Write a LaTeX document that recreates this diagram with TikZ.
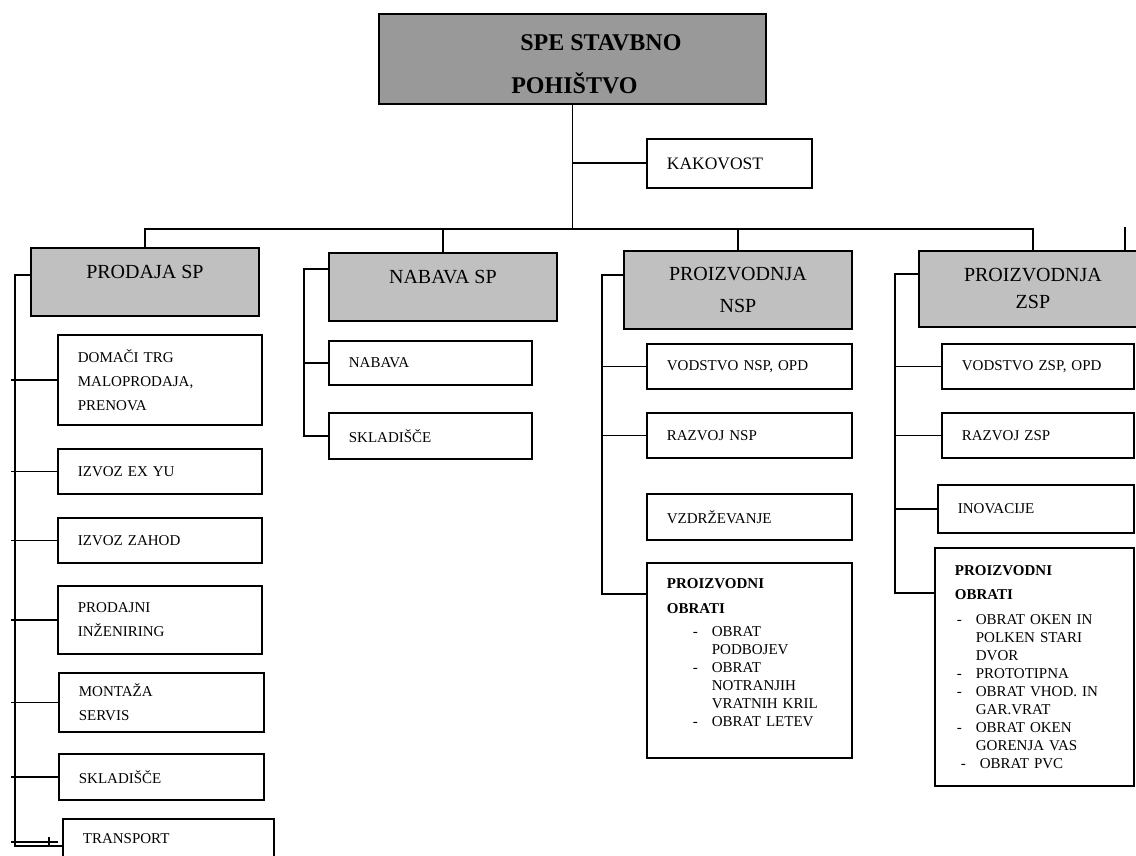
\documentclass[tikz,border=0pt]{standalone}
\usepackage{fontspec}
\setmainfont{Liberation Serif}
\usepackage{tikz}
\usetikzlibrary{positioning, calc}

\definecolor{topgray}{HTML}{999999}
\definecolor{headgray}{HTML}{C0C0C0}

\newcommand{\unitfont}{\fontsize{15}{24}\selectfont}
\newcommand{\headfont}{\fontsize{20}{24}\selectfont}
\newcommand{\titlefont}{\fontsize{24}{29}\selectfont\bfseries}
\newcommand{\obrfont}{\fontsize{15}{18}\selectfont}
\newcommand{\obr}[2][0pt]{\hspace*{#1}\makebox[19pt][l]{-}\mbox{#2}}
\newcommand{\obrnext}[2][0pt]{\hspace*{#1}\hspace*{19pt}\mbox{#2}}

\begin{document}
\begin{tikzpicture}[x=1pt, y=-1pt,
    conn/.style={line width=1.8pt},
    topbox/.style={draw, line width=1.8pt, fill=topgray, font=\titlefont, align=left, inner sep=0pt, anchor=north west},
    headbox/.style={draw, line width=1.8pt, fill=headgray, font=\headfont, align=center, inner sep=0pt, minimum width=228pt, anchor=north west},
    unitbox/.style={draw, line width=1.8pt, font=\unitfont, align=left, inner xsep=20pt, inner ysep=0pt, anchor=north west},
    obrbox/.style={unitbox, font=\obrfont}
  ]
  \useasboundingbox (0,0) rectangle (1136,856);

  % Top
  \node[topbox, minimum width=387pt, minimum height=90pt] (top) at (378,13)
    {\hspace*{57pt}\rule{0pt}{27pt}SPE STAVBNO\\[14pt]\hspace*{48pt}POHIŠTVO};
  \node[unitbox, font=\fontsize{17.5}{21}\selectfont, text width=125pt, minimum height=49pt] (kakovost) at (646,138) {KAKOVOST};

  % Departments
  \node[headbox, minimum height=68pt] (prodaja) at (30,247) {PRODAJA SP\\[-3pt]~};
  \node[headbox, minimum height=68pt] (nabava) at (328,252) {NABAVA SP\\[-4pt]~};
  \node[headbox, minimum height=78pt] (nsp) at (623,250) {PROIZVODNJA\\[8pt]NSP};
  \node[headbox, minimum height=76pt] (zsp) at (918,250) {PROIZVODNJA\\[3pt]ZSP};

  % Prodaja
  \node[unitbox, text width=164pt, minimum height=90pt] (domaci) at (57,334) {DOMAČI TRG\\MALOPRODAJA,\\PRENOVA};
  \node[unitbox, text width=164pt, minimum height=45pt] (exyu) at (57,448) {IZVOZ EX YU};
  \node[unitbox, text width=164pt, minimum height=45pt] (zahod) at (57,517) {IZVOZ ZAHOD};
  \node[unitbox, text width=164pt, minimum height=68pt] (inzen) at (57,585) {PRODAJNI\\INŽENIRING};
  \node[unitbox, text width=165pt, minimum height=59pt] (montaza) at (58,672) {MONTAŽA\\SERVIS};
  \node[unitbox, text width=165pt, minimum height=46pt] (pskl) at (58,753) {SKLADIŠČE};
  \node[unitbox, text width=171pt, minimum height=40pt] (transport) at (62,818) {TRANSPORT};

  % Nabava
  \node[unitbox, text width=163pt, minimum height=44pt] (nab) at (328,340) {NABAVA};
  \node[unitbox, text width=163pt, minimum height=46pt] (nskl) at (328,412) {SKLADIŠČE};

  % Proizvodnja NSP
  \node[unitbox, text width=165pt, minimum height=45pt] (nvod) at (646,343) {VODSTVO NSP, OPD};
  \node[unitbox, text width=165pt, minimum height=45pt] (nraz) at (646,412) {RAZVOJ NSP};
  \node[unitbox, text width=165pt, minimum height=46pt] (nvzd) at (646,493) {VZDRŽEVANJE};
  \node[obrbox, text width=165pt, minimum height=195pt] (nobr) at (646,562) {%
    \textbf{PROIZVODNI}\\[7pt]
    \textbf{OBRATI}\\[5pt]
    \obr[26pt]{OBRAT}\\
    \obrnext[26pt]{PODBOJEV}\\
    \obr[26pt]{OBRAT}\\
    \obrnext[26pt]{NOTRANJIH}\\
    \obrnext[26pt]{VRATNIH KRIL}\\
    \obr[26pt]{OBRAT LETEV}\\[-2pt]~};

  % Proizvodnja ZSP
  \node[unitbox, text width=152pt, minimum height=45pt] (zvod) at (941,343) {VODSTVO ZSP, OPD};
  \node[unitbox, text width=152pt, minimum height=45pt] (zraz) at (941,412) {RAZVOJ ZSP};
  \node[unitbox, text width=156pt, minimum height=48pt] (zinov) at (937,484) {INOVACIJE};
  \node[obrbox, text width=159pt, minimum height=238pt] (zobr) at (934,547) {%
    \textbf{PROIZVODNI}\\[6pt]
    \textbf{OBRATI}\\[7pt]
    \obr[2pt]{OBRAT OKEN IN}\\
    \obrnext[2pt]{POLKEN STARI}\\
    \obrnext[2pt]{DVOR}\\
    \obr[2pt]{PROTOTIPNA}\\
    \obr[2pt]{OBRAT VHOD. IN}\\
    \obrnext[2pt]{GAR.VRAT}\\
    \obr[2pt]{OBRAT OKEN}\\
    \obrnext[2pt]{GORENJA VAS}\\
    \obr[6pt]{OBRAT PVC}};

  % Trunk and bus
  \coordinate (bus) at (0,229);
  \coordinate (stub) at (1125,227);
  \draw[conn] (top.south) -- (top.south |- bus);
  \draw[conn] (kakovost.west) -- (kakovost.west -| top.south);
  \draw[conn] (prodaja.north) -- (prodaja.north |- bus) -- (zsp.north |- bus) -- (zsp.north);
  \foreach \n in {nabava, nsp}
    \draw[conn] (\n.north) -- (\n.north |- bus);
  \draw[conn] (stub) -- (stub |- zsp.north);

  % Prodaja spine
  \coordinate (pspine) at (15,0);
  \coordinate (tconn) at ([yshift=-7pt]transport.west);
  \coordinate (tconn2) at ([yshift=-3pt]transport.west);
  \draw[conn] ([yshift=7pt]prodaja.west) -| (tconn -| pspine) -- (tconn);
  \foreach \n in {domaci, exyu, zahod, inzen, montaza, pskl}
    \draw[conn] (\n.west) -- ($(\n.west -| pspine)+(-4,0)$);
  \draw[conn] ($(tconn2 -| pspine)+(-4,0)$) -- ($(tconn2)+(-4,0)$);
  \draw[conn] ($(tconn)+(-13,0)$) -- ++(0,-9);

  % Nabava spine
  \coordinate (nspine) at (304,0);
  \draw[conn] ([yshift=18pt]nabava.west) -| (nskl.west -| nspine) -- (nskl.west);
  \draw[conn] (nab.west) -- (nab.west -| nspine);

  % NSP spine
  \coordinate (nsspine) at (602,0);
  \coordinate (nobrc) at ([yshift=-32pt]nobr.north west);
  \draw[conn] ([yshift=15pt]nsp.west) -| (nobrc -| nsspine) -- (nobrc);
  \foreach \n in {nvod, nraz}
    \draw[conn] (\n.west) -- (\n.west -| nsspine);

  % ZSP spine
  \coordinate (zspine) at (895,0);
  \coordinate (zobrc) at ([yshift=-46pt]zobr.north west);
  \draw[conn] ([yshift=15pt]zsp.west) -| (zobrc -| zspine) -- (zobrc);
  \foreach \n in {zvod, zraz, zinov}
    \draw[conn] (\n.west) -- (\n.west -| zspine);
\end{tikzpicture}
\end{document}
